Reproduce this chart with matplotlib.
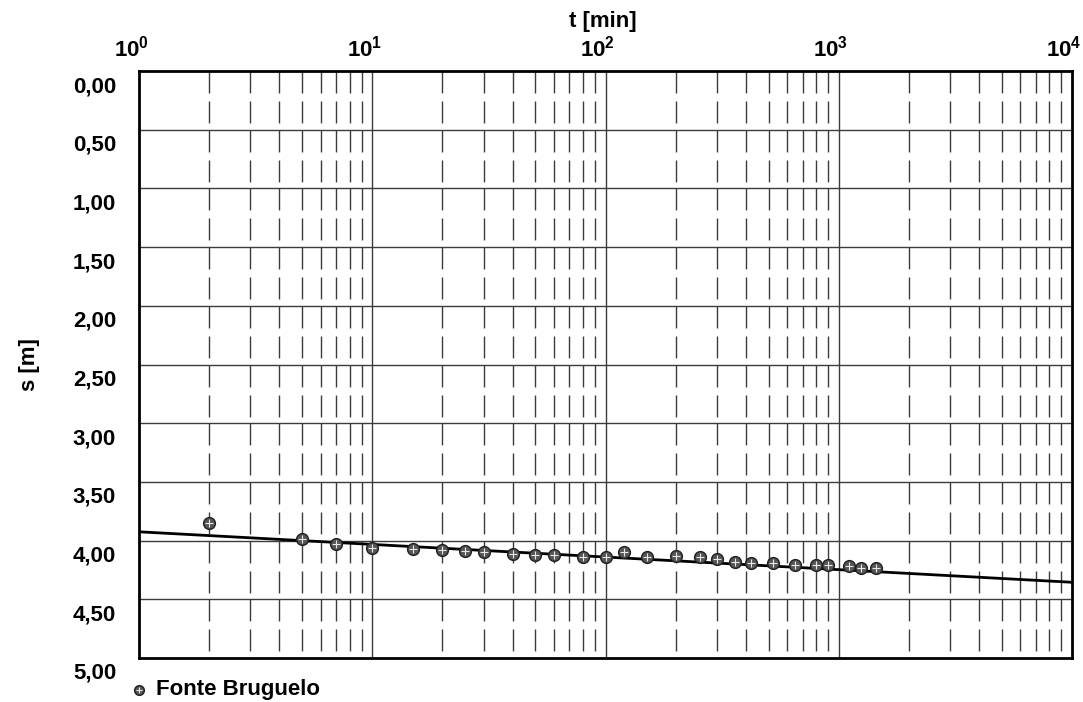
import numpy as np
import matplotlib
matplotlib.use("Agg")
import matplotlib.pyplot as plt
from matplotlib.transforms import ScaledTranslation

plt.rcParams['font.family'] = ['Liberation Sans', 'DejaVu Sans']
plt.rcParams['font.weight'] = 'bold'
plt.rcParams['mathtext.fontset'] = 'custom'
plt.rcParams['mathtext.rm'] = 'Liberation Sans:bold'
plt.rcParams['mathtext.bf'] = 'Liberation Sans:bold'
plt.rcParams['mathtext.it'] = 'Liberation Sans:bold'
plt.rcParams['lines.scale_dashes'] = False

# ---- data ----
t_min = [2, 5, 7, 10, 15, 20, 25, 30, 40, 50, 60, 80, 100, 120, 150, 200,
         255, 300, 360, 420, 520, 650, 800, 900, 1110, 1250, 1440]
s_m = [3.85, 3.99, 4.03, 4.06, 4.07, 4.08, 4.09, 4.10, 4.11, 4.12, 4.12, 4.14,
       4.14, 4.10, 4.14, 4.13, 4.14, 4.16, 4.18, 4.19, 4.19, 4.21, 4.21, 4.21,
       4.22, 4.23, 4.23]
fit_t = [1, 10000]
fit_s = [3.925, 4.355]
series_name = "Fonte Bruguelo"
x_ticks = [1, 10, 100, 1000, 10000]
x_ticklabels = [r'$10^{0}$', r'$10^{1}$', r'$10^{2}$', r'$10^{3}$', r'$10^{4}$']
y_ticks = [0.0, 0.5, 1.0, 1.5, 2.0, 2.5, 3.0, 3.5, 4.0, 4.5, 5.0]
y_ticklabels = ['0,00', '0,50', '1,00', '1,50', '2,00', '2,50', '3,00', '3,50',
                '4,00', '4,50', '5,00']
x_label = "t [min]"
y_label = "s [m]"

W, H = 1083, 702
FS = 16
fig = plt.figure(figsize=(W / 100, H / 100), dpi=100)
ax = fig.add_axes([139 / W, 1 - 658 / H, (1072 - 139) / W, (658 - 71) / H])

ax.set_xscale('log')
ax.set_xlim(1, 10000)
ax.set_ylim(5, 0)

gcol = '#3c3c3c'
# minor dashed verticals, restarting each 0.5 interval
minor_x = [m * 10 ** k for k in range(4) for m in range(2, 10)]
for i in range(len(y_ticks) - 1):
    ax.vlines(minor_x, y_ticks[i], y_ticks[i + 1], colors=gcol, linewidth=1.0,
              linestyles=(0, (15.8, 5.8)), zorder=1)
# major solid verticals / horizontals
ax.vlines(x_ticks[1:-1], 0, 5, colors=gcol, linewidth=1.0, zorder=1)
ax.hlines(y_ticks[1:-1], 1, 10000, colors=gcol, linewidth=1.0, zorder=1)

# fit line
ax.plot(fit_t, fit_s, color='black', linewidth=2.0, zorder=3)

# data points
ax.plot(t_min, s_m, linestyle='none', marker='o', markersize=8.5,
        markerfacecolor='#555555', markeredgecolor='#202020',
        markeredgewidth=1.0, zorder=4)
ax.plot(t_min, s_m, linestyle='none', marker='+', markersize=6,
        markeredgecolor='#e8e8e8', markeredgewidth=0.8, zorder=5)

for sp in ax.spines.values():
    sp.set_linewidth(2.0)
    sp.set_color('black')

ax.xaxis.set_ticks_position('top')
ax.set_xticks(x_ticks)
ax.set_xticklabels(x_ticklabels)
ax.xaxis.set_minor_locator(matplotlib.ticker.NullLocator())
ax.tick_params(axis='x', which='both', length=0, pad=6.5, labelsize=FS)
for lab in ax.get_xticklabels():
    lab.set_transform(lab.get_transform() + ScaledTranslation(-8 / 100, 0, fig.dpi_scale_trans))

ax.set_yticks(y_ticks)
ax.set_yticklabels(y_ticklabels)
ax.tick_params(axis='y', length=0, pad=16.5, labelsize=FS)
for lab in ax.get_yticklabels():
    lab.set_verticalalignment('top')
    lab.set_transform(lab.get_transform() + ScaledTranslation(0, -5 / 100, fig.dpi_scale_trans))

fig.text(603 / W, 1 - 22 / H, x_label, ha='center', va='center',
         fontsize=FS, fontweight='bold')
fig.text(30 / W, 1 - 365 / H, y_label, ha='center', va='center',
         rotation=90, fontsize=FS, fontweight='bold')

# legend
fig.lines.append(matplotlib.lines.Line2D([139 / W], [1 - 690 / H], transform=fig.transFigure,
                 marker='o', markersize=7, markerfacecolor='#555555',
                 markeredgecolor='#202020', linestyle='none'))
fig.lines.append(matplotlib.lines.Line2D([139 / W], [1 - 690 / H], transform=fig.transFigure,
                 marker='+', markersize=5, markeredgecolor='#e8e8e8',
                 markeredgewidth=0.8, linestyle='none'))
fig.text(156 / W, 1 - 690 / H, series_name, ha='left', va='center',
         fontsize=FS, fontweight='bold')

fig.savefig('out.png', dpi=100)
